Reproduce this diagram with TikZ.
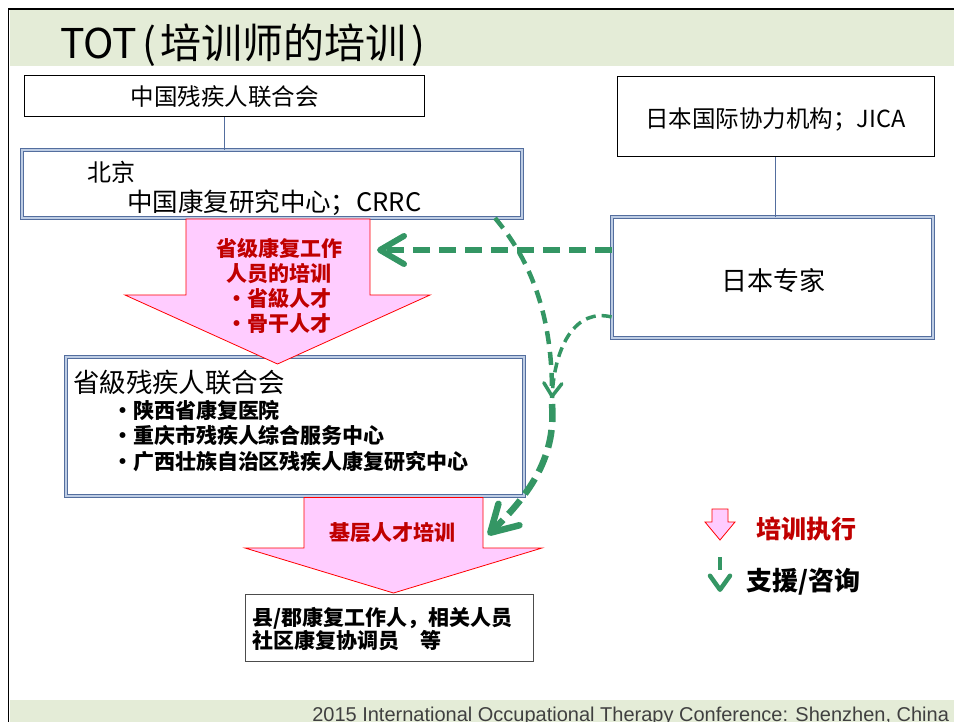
\documentclass[tikz,border=0pt]{standalone}
\usepackage{fontspec}
\setmainfont{Noto Sans CJK SC}
\newfontfamily\footfont{Liberation Sans}
\usetikzlibrary{arrows.meta,calc}
\definecolor{band}{RGB}{228,236,215}
\definecolor{boxblue}{RGB}{84,110,158}
\definecolor{boxlight}{RGB}{190,205,228}
\definecolor{pinkfill}{RGB}{255,204,255}
\definecolor{redtxt}{RGB}{192,0,0}
\definecolor{gr}{RGB}{52,150,100}
\newcommand{\setfs}[2]{\fontsize{#1}{#2}\selectfont}
\begin{document}
\begin{tikzpicture}[x=1pt,y=-1pt,
  box/.style={draw=black, line width=1pt, inner sep=0pt},
  dbox/.style={draw=boxblue, line width=0.9pt, double=boxlight, double distance=1.3pt, inner sep=0pt},
  lbl/.style={inner sep=0pt, outer sep=0pt},
  pinkarrow/.style={draw=red, line width=0.8pt, fill=pinkfill, line join=miter},
  link/.style={draw=boxblue, line width=1.2pt},
  gdash/.style={draw=gr, line cap=butt},
]
\useasboundingbox (0,0) rectangle (954,722);
% bands and frame
\fill[band] (9.5,10) rectangle (954,66);
\fill[band] (9.5,700) rectangle (954,722);
\draw[line width=1.5pt] (8.5,722) -- (8.5,9) -- (954,9);
\node[lbl, anchor=west, font=\setfs{41}{41}] (title) at (60,45) {TOT\hspace{5pt}(\hspace{4pt}培训师的培训\hspace{5pt})};
\node[lbl, anchor=base east, font=\footfont\setfs{20}{20}, text=black!75] (foot) at (949,721) {2015 International Occupational Therapy Conference: Shenzhen, China};

% boxes
\node[box, minimum width=400pt, minimum height=41pt] (box1) at (224.5,96.5) {};
\node[lbl, font=\setfs{23.5}{23.5}] (t1) at (box1) {中国残疾人联合会};

\node[dbox, fill=white, minimum width=500pt, minimum height=68pt] (box2) at (272,184) {};
\node[lbl, anchor=west, font=\setfs{24}{24}] (t2a) at (87,172) {北京};
\node[lbl, anchor=west, font=\setfs{25.5}{25.5}] (t2b) at (127,203) {中国康复研究中心；CRRC};

\node[box, minimum width=317pt, minimum height=80pt] (jica) at (775.5,117) {};
\node[lbl, font=\setfs{23.5}{23.5}] (tj) at (775.5,120) {日本国际协力机构；JICA};

\node[dbox, minimum width=321pt, minimum height=121pt] (expert) at (772.5,277.5) {};
\node[lbl, font=\setfs{26}{26}] (te) at (773,281) {日本专家};

\node[dbox, minimum width=458pt, minimum height=139pt] (box3) at (295,426.5) {};
\node[lbl, anchor=west, font=\setfs{26.5}{26.5}] (t3) at (73,382) {省級残疾人联合会};
\node[lbl, anchor=north west, align=left, font=\bfseries\setfs{21}{25.7}] (t3b) at (112,400) {・陕西省康复医院\\・重庆市残疾人综合服务中心\\・广西壮族自治区残疾人康复研究中心};

\node[draw=black!70, line width=1pt, inner sep=0pt, minimum width=288pt, minimum height=67pt] (box4) at (389,627.5) {};
\node[lbl, anchor=north west, align=left, font=\bfseries\setfs{21}{23.5}] (t4) at (252,607) {县/郡康复工作人，相关人员\\社区康复协调员　等};

% connectors
\draw[link] (box1.south) -- (box1.south |- box2.north);
\draw[link] (jica.south) -- (jica.south |- expert.north);

% pink arrow 1
\draw[pinkarrow] (186,219) -- (370,219) -- (370,295) -- (430,295) -- (277.5,364) -- (125,295) -- (186,295) -- cycle;
\node[lbl, align=center, text=redtxt, font=\bfseries\setfs{21}{25}] (pa1) at (279,286) {省级康复工作\\人员的培训\\・省級人才\\・骨干人才};

% pink arrow 2
\draw[pinkarrow] (304,497.5) -- (483,497.5) -- (483,548) -- (542,548) -- (393.5,593) -- (245,548) -- (304,548) -- cycle;
\node[lbl, text=redtxt, font=\bfseries\setfs{21}{21}] (pa2) at (392,533) {基层人才培训};

% green dashed arrows
\coordinate (hs) at ($(expert.west)+(0,-27.5)$);
\coordinate (htip) at (377,250);
\draw[gdash, line width=6pt, dash pattern=on 17pt off 9pt, -{Straight Barb[length=24pt,width=28pt,round]}] (hs) -- (htip);

\coordinate (c1s) at (495,218);
\coordinate (merge) at (552,398);
\coordinate (c2s) at ($(expert.west)+(0,39.5)$);
\coordinate (bigtip) at (488,535);
\draw[gdash, line width=4.5pt, dash pattern=on 13pt off 8pt] (c1s) .. controls (532,262) and (553,318) .. (merge);
\draw[gdash, line width=3.5pt, dash pattern=on 10pt off 6pt, -{Straight Barb[length=13pt,width=18pt,round]}] (c2s) .. controls (576,308) and (555,345) .. (merge);
\draw[gdash, line width=6.5pt, dash pattern=on 18pt off 8pt, -{Straight Barb[length=26pt,width=30pt,round]}] ($(merge)+(0,6)$) .. controls (556,455) and (532,492) .. (bigtip);

% legend
\draw[pinkarrow] (712,509) -- (728,509) -- (728,522) -- (735,522) -- (720,540) -- (705,522) -- (712,522) -- cycle;
\node[lbl, anchor=west, text=redtxt, font=\bfseries\setfs{25}{25}] (lg1) at (756,529) {培训执行};
\coordinate (lgs) at (720,557);
\coordinate (lge) at (720,592);
\draw[gdash, line width=4.5pt, dash pattern=on 13pt off 40pt, -{Straight Barb[length=14pt,width=20pt,round]}] (lgs) -- (lge);
\node[lbl, anchor=west, font=\bfseries\setfs{26}{26}] (lg2) at (746,582) {支援/咨询};
\end{tikzpicture}
\end{document}
